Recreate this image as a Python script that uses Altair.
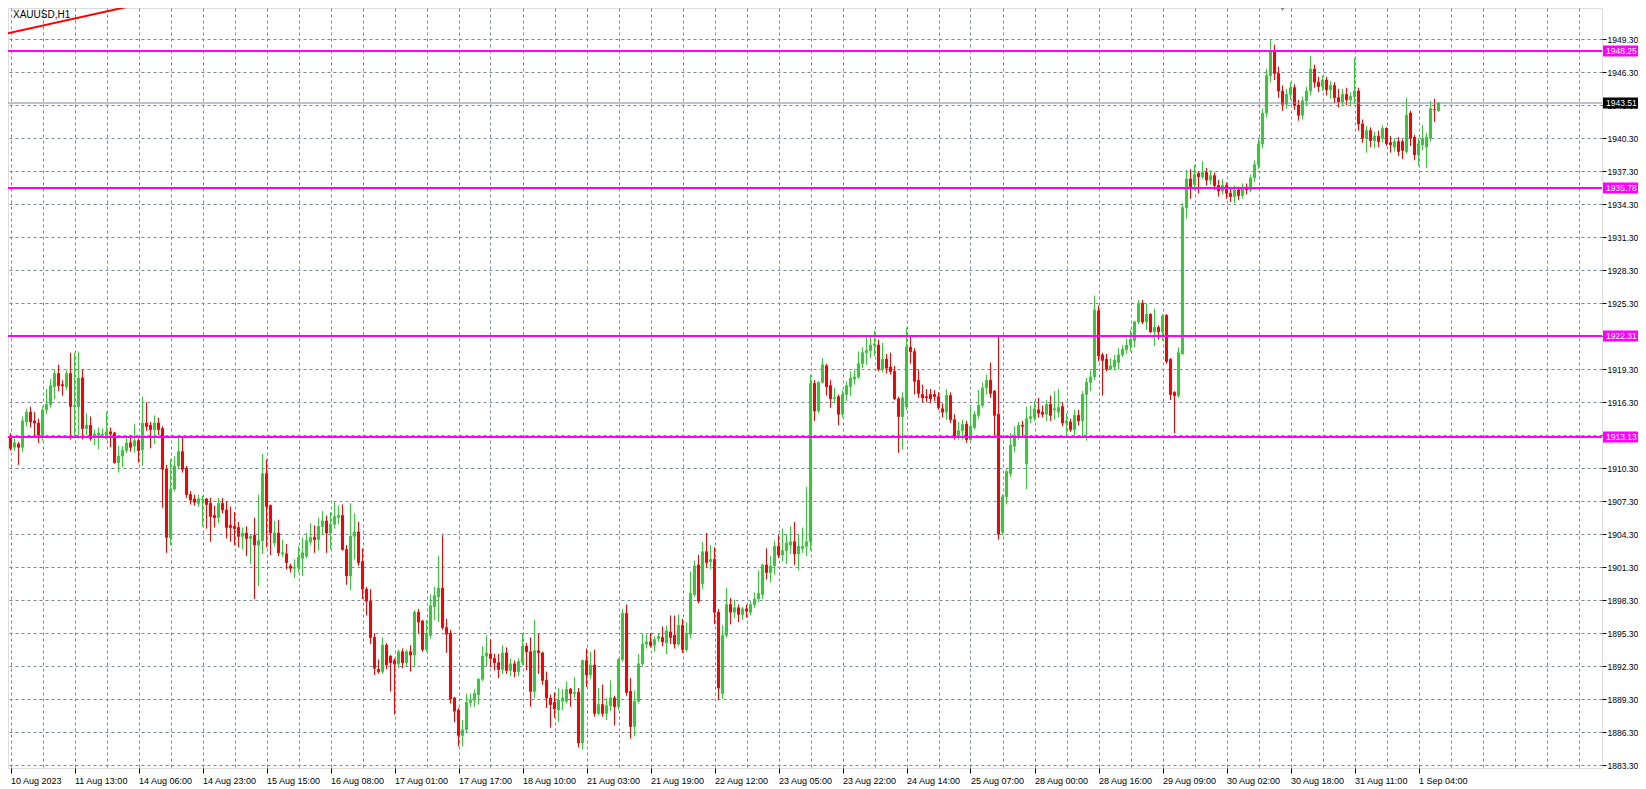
import json
import altair as alt
import pandas as pd

SYMBOL = "XAUUSD,H1"

OPEN = [
    1913.2, 1912.2, 1912.5, 1912.2, 1914.5, 1915.4, 1914.6, 1914.4, 1913.3, 1915.6,
    1916.1, 1917.7, 1918.9, 1917.9, 1917.7, 1918.9, 1915.9, 1915.9, 1918.5, 1913.9,
    1914.2, 1913.2, 1913.3, 1913.3, 1913.0, 1913.6, 1913.5, 1910.8, 1911.4, 1911.9,
    1912.6, 1912.3, 1912.8, 1912.0, 1914.4, 1914.2, 1913.8, 1914.4, 1913.9, 1910.2,
    1904.0, 1908.4, 1910.5, 1911.8, 1910.3, 1907.9, 1907.5, 1907.1, 1907.4, 1907.5,
    1907.1, 1906.0, 1905.8, 1907.1, 1906.5, 1905.1, 1905.0, 1904.9, 1904.1, 1904.4,
    1903.9, 1904.2, 1903.3, 1903.7, 1909.8, 1906.9, 1903.5, 1904.4, 1902.5, 1902.5,
    1901.4, 1901.2, 1901.3, 1902.1, 1902.3, 1903.6, 1904.0, 1903.8, 1905.0, 1905.5,
    1904.4, 1905.2, 1905.8, 1906.0, 1902.9, 1900.5, 1904.1, 1904.5, 1901.8, 1899.3,
    1898.2, 1894.9, 1892.0, 1891.8, 1894.2, 1893.2, 1892.8, 1892.5, 1893.6, 1892.6,
    1893.6, 1893.3, 1897.2, 1896.4, 1893.8, 1895.1, 1897.7, 1898.6, 1899.4, 1895.8,
    1895.3, 1889.4, 1888.3, 1886.0, 1886.5, 1889.0, 1889.2, 1889.7, 1891.1, 1893.2,
    1893.4, 1893.0, 1892.6, 1892.0, 1893.5, 1891.9, 1892.5, 1891.8, 1892.6, 1894.1,
    1893.6, 1890.0, 1893.7, 1893.5, 1891.0, 1889.4, 1889.0, 1888.3, 1889.1, 1889.1,
    1890.2, 1889.8, 1889.9, 1885.3, 1892.8, 1891.5, 1892.4, 1888.0, 1888.8, 1888.0,
    1888.7, 1889.4, 1888.6, 1892.9, 1897.1, 1890.0, 1886.8, 1889.1, 1892.5, 1894.3,
    1894.5, 1894.2, 1894.8, 1894.9, 1894.4, 1895.4, 1895.1, 1894.3, 1896.0, 1893.8,
    1895.2, 1898.8, 1901.5, 1899.8, 1902.7, 1901.8, 1902.0, 1897.2, 1889.8, 1895.1,
    1897.9, 1897.2, 1897.6, 1897.0, 1897.5, 1897.2, 1897.9, 1898.4, 1898.8, 1901.5,
    1900.8, 1901.4, 1903.2, 1902.4, 1902.8, 1903.3, 1903.6, 1902.5, 1903.0, 1903.2,
    1903.6, 1918.0, 1915.5, 1918.1, 1919.6, 1917.8, 1916.6, 1916.8, 1915.2, 1917.0,
    1917.7, 1918.4, 1918.6, 1919.8, 1920.8, 1921.0, 1921.5, 1921.5, 1919.3, 1920.2,
    1919.5, 1919.1, 1916.6, 1915.0, 1915.9, 1921.3, 1920.9, 1918.3, 1917.0, 1916.8,
    1917.0, 1917.0, 1916.8, 1915.7, 1915.4, 1916.9, 1914.7, 1913.2, 1913.7, 1914.3,
    1912.9, 1914.0, 1915.1, 1916.0, 1917.6, 1918.3, 1917.3, 1915.2, 1904.5, 1907.7,
    1909.8, 1912.3, 1913.2, 1914.2, 1910.7, 1914.8, 1914.9, 1915.6, 1915.4, 1915.2,
    1916.1, 1915.6, 1915.4, 1915.9, 1914.4, 1914.5, 1913.8, 1915.1, 1914.6, 1917.0,
    1918.1, 1918.6, 1924.6, 1920.6, 1920.2, 1919.3, 1919.5, 1919.9, 1920.6, 1921.1,
    1921.5, 1921.9, 1923.6, 1925.3, 1923.6, 1924.3, 1922.7, 1923.1, 1922.7, 1924.2,
    1920.2, 1917.2, 1916.9, 1920.7, 1934.0, 1936.6, 1936.1, 1937.1, 1936.8, 1937.2,
    1936.5, 1936.9, 1936.0, 1935.5, 1936.0, 1935.3, 1935.0, 1935.6, 1935.1, 1935.8,
    1935.6, 1936.7, 1937.9, 1939.8, 1942.6, 1946.0, 1948.3, 1946.2, 1944.6, 1943.4,
    1944.3, 1944.9, 1943.3, 1942.4, 1943.7, 1944.6, 1946.6, 1945.4, 1945.0, 1945.6,
    1944.7, 1945.1, 1944.0, 1943.6, 1944.3, 1943.8, 1944.1, 1944.6, 1941.6, 1940.3,
    1941.0, 1940.1, 1940.5, 1940.3, 1941.2, 1939.9, 1939.5, 1940.0, 1940.0, 1939.1,
    1942.6, 1940.4, 1938.8, 1939.7, 1939.5, 1940.3, 1942.9, 1942.8,
]

HIGH = [
    1913.5, 1913.0, 1912.7, 1915.0, 1915.7, 1915.9, 1915.4, 1914.8, 1915.9, 1917.5,
    1918.4, 1919.3, 1919.7, 1918.3, 1919.2, 1920.8, 1920.8, 1920.9, 1919.3, 1915.3,
    1915.0, 1913.8, 1914.0, 1913.9, 1915.4, 1914.0, 1913.6, 1912.3, 1912.3, 1913.2,
    1913.3, 1914.3, 1913.0, 1916.8, 1916.3, 1914.5, 1915.1, 1914.9, 1914.1, 1910.6,
    1911.1, 1911.4, 1913.2, 1913.2, 1910.5, 1908.2, 1907.9, 1907.9, 1907.8, 1907.6,
    1907.6, 1906.9, 1907.6, 1907.6, 1907.3, 1906.8, 1906.3, 1905.4, 1904.9, 1905.0,
    1904.2, 1905.8, 1907.9, 1911.6, 1911.1, 1907.0, 1905.5, 1905.6, 1903.8, 1903.4,
    1901.6, 1902.0, 1903.2, 1904.0, 1904.4, 1905.3, 1905.1, 1905.8, 1906.4, 1906.0,
    1906.3, 1907.3, 1906.9, 1907.0, 1903.3, 1907.1, 1906.2, 1905.4, 1903.0, 1899.5,
    1899.3, 1895.3, 1892.9, 1894.9, 1894.4, 1893.3, 1893.0, 1893.8, 1893.9, 1893.8,
    1894.2, 1897.4, 1897.5, 1896.5, 1896.5, 1898.8, 1899.5, 1902.3, 1904.2, 1896.6,
    1895.6, 1889.5, 1888.5, 1887.4, 1889.8, 1889.8, 1890.2, 1891.2, 1894.1, 1895.1,
    1894.7, 1893.4, 1893.4, 1894.2, 1894.0, 1893.0, 1892.8, 1893.0, 1895.3, 1894.4,
    1894.9, 1896.5, 1895.3, 1893.6, 1891.8, 1889.7, 1889.9, 1890.3, 1890.2, 1890.9,
    1890.3, 1891.3, 1890.3, 1892.9, 1893.9, 1893.6, 1893.8, 1890.3, 1890.6, 1889.4,
    1891.0, 1889.6, 1893.0, 1897.5, 1897.9, 1891.2, 1890.1, 1893.4, 1895.3, 1895.2,
    1895.3, 1895.0, 1895.3, 1895.9, 1896.0, 1896.9, 1896.9, 1897.0, 1896.6, 1896.3,
    1900.9, 1901.9, 1902.4, 1903.6, 1904.4, 1903.3, 1903.1, 1897.5, 1896.0, 1899.4,
    1898.5, 1898.3, 1897.9, 1897.7, 1897.9, 1898.2, 1899.0, 1901.0, 1901.6, 1903.0,
    1902.3, 1903.7, 1904.2, 1904.8, 1904.3, 1905.0, 1905.4, 1904.3, 1904.9, 1908.6,
    1918.8, 1918.3, 1918.2, 1920.3, 1919.8, 1918.3, 1917.6, 1917.0, 1917.4, 1918.2,
    1919.1, 1919.3, 1920.9, 1921.3, 1922.4, 1922.4, 1922.8, 1922.0, 1921.7, 1920.7,
    1920.8, 1919.6, 1916.8, 1917.2, 1923.1, 1922.3, 1921.2, 1919.3, 1917.9, 1917.5,
    1917.5, 1917.4, 1917.2, 1916.2, 1917.5, 1917.2, 1915.2, 1914.5, 1914.7, 1914.6,
    1916.0, 1915.5, 1917.4, 1918.1, 1918.8, 1919.9, 1917.4, 1922.3, 1907.9, 1910.2,
    1913.5, 1914.1, 1914.5, 1914.6, 1915.9, 1916.0, 1916.4, 1916.7, 1916.0, 1916.5,
    1916.9, 1917.3, 1917.5, 1916.3, 1915.3, 1914.8, 1915.6, 1915.6, 1917.3, 1918.5,
    1919.2, 1926.0, 1925.1, 1920.8, 1920.7, 1920.3, 1920.6, 1921.2, 1921.5, 1922.1,
    1922.9, 1923.7, 1925.6, 1925.6, 1925.3, 1924.4, 1924.8, 1923.3, 1924.3, 1924.3,
    1920.3, 1917.3, 1921.3, 1934.4, 1937.4, 1937.5, 1937.9, 1937.3, 1938.2, 1937.6,
    1937.4, 1937.2, 1936.5, 1936.6, 1936.3, 1935.8, 1936.0, 1935.9, 1936.2, 1936.2,
    1937.0, 1938.3, 1940.2, 1943.0, 1946.6, 1949.3, 1948.8, 1946.8, 1945.1, 1944.8,
    1945.4, 1945.2, 1943.8, 1944.1, 1945.0, 1947.8, 1947.0, 1945.9, 1946.0, 1945.9,
    1945.5, 1945.4, 1944.8, 1944.8, 1944.9, 1944.5, 1947.6, 1944.9, 1942.0, 1941.4,
    1941.3, 1940.9, 1941.0, 1941.5, 1941.3, 1940.5, 1940.3, 1940.4, 1940.2, 1944.0,
    1942.8, 1940.6, 1940.3, 1941.5, 1940.8, 1943.7, 1943.9, 1943.6,
]

LOW = [
    1911.9, 1911.9, 1910.6, 1911.8, 1914.1, 1914.0, 1913.1, 1912.6, 1912.8, 1915.2,
    1915.8, 1916.6, 1917.3, 1916.9, 1917.4, 1912.9, 1913.0, 1913.0, 1912.9, 1913.3,
    1912.8, 1912.4, 1912.0, 1913.0, 1912.9, 1912.2, 1910.7, 1909.9, 1910.4, 1911.7,
    1911.8, 1911.7, 1910.8, 1910.5, 1913.7, 1912.1, 1912.5, 1913.3, 1906.7, 1902.6,
    1903.3, 1908.2, 1910.3, 1909.9, 1907.6, 1907.0, 1906.9, 1906.8, 1905.0, 1904.8,
    1903.6, 1904.9, 1905.3, 1906.2, 1903.9, 1903.6, 1903.3, 1903.1, 1902.9, 1902.3,
    1901.6, 1898.4, 1899.6, 1902.5, 1903.1, 1902.4, 1903.2, 1902.3, 1902.2, 1901.1,
    1900.8, 1900.3, 1900.8, 1900.5, 1902.1, 1903.3, 1902.6, 1902.8, 1904.2, 1902.6,
    1902.9, 1904.8, 1905.2, 1902.8, 1899.7, 1899.2, 1902.0, 1901.4, 1898.4, 1896.9,
    1894.3, 1891.5, 1891.6, 1891.6, 1892.0, 1890.0, 1887.9, 1892.1, 1892.1, 1892.3,
    1891.8, 1892.2, 1895.3, 1893.6, 1893.6, 1894.8, 1896.5, 1896.3, 1895.6, 1893.5,
    1888.9, 1887.2, 1885.0, 1885.0, 1886.3, 1888.6, 1888.6, 1888.8, 1890.9, 1892.3,
    1892.2, 1891.9, 1891.2, 1891.6, 1891.6, 1891.4, 1891.3, 1891.4, 1892.4, 1891.9,
    1888.6, 1889.4, 1891.6, 1890.6, 1888.5, 1886.7, 1887.6, 1887.2, 1888.3, 1888.9,
    1888.6, 1889.4, 1884.9, 1884.7, 1890.4, 1891.1, 1887.7, 1887.8, 1887.7, 1887.4,
    1888.2, 1886.9, 1888.3, 1892.7, 1889.6, 1885.7, 1885.9, 1888.9, 1892.3, 1893.9,
    1894.0, 1893.6, 1894.5, 1894.1, 1893.4, 1894.3, 1893.9, 1894.1, 1893.5, 1893.6,
    1894.8, 1898.6, 1898.0, 1899.3, 1901.3, 1901.1, 1896.1, 1889.2, 1889.3, 1894.9,
    1896.1, 1896.7, 1896.3, 1896.5, 1896.7, 1896.9, 1897.6, 1898.1, 1898.4, 1900.2,
    1899.9, 1900.6, 1902.1, 1901.8, 1901.6, 1902.5, 1901.5, 1901.0, 1902.6, 1902.3,
    1902.8, 1914.6, 1915.3, 1918.0, 1916.9, 1915.8, 1916.2, 1914.2, 1914.9, 1916.4,
    1916.9, 1917.9, 1918.4, 1919.4, 1919.7, 1920.3, 1920.5, 1919.1, 1919.0, 1918.9,
    1918.8, 1916.5, 1911.7, 1912.0, 1915.6, 1919.8, 1917.0, 1916.7, 1916.3, 1916.3,
    1916.2, 1916.4, 1915.6, 1914.9, 1914.7, 1914.4, 1912.9, 1912.9, 1912.9, 1912.6,
    1912.8, 1913.8, 1914.8, 1915.8, 1917.0, 1916.7, 1913.3, 1903.8, 1904.2, 1907.0,
    1909.5, 1911.8, 1912.9, 1913.2, 1908.4, 1914.4, 1914.6, 1914.9, 1914.9, 1914.6,
    1914.6, 1914.7, 1914.9, 1914.1, 1913.3, 1913.6, 1913.3, 1914.2, 1913.2, 1912.8,
    1917.3, 1918.3, 1920.0, 1916.9, 1919.1, 1919.2, 1919.2, 1919.3, 1920.4, 1920.7,
    1920.9, 1921.3, 1923.4, 1923.4, 1922.9, 1922.6, 1921.4, 1922.0, 1921.9, 1919.8,
    1916.5, 1913.5, 1916.7, 1920.6, 1933.0, 1934.8, 1935.6, 1935.3, 1936.6, 1936.0,
    1936.1, 1935.6, 1935.0, 1935.2, 1934.8, 1934.5, 1934.4, 1934.7, 1934.8, 1935.2,
    1935.4, 1936.3, 1937.5, 1939.4, 1942.2, 1945.4, 1945.6, 1944.0, 1942.8, 1943.0,
    1943.8, 1942.9, 1941.9, 1942.0, 1943.3, 1944.2, 1944.9, 1944.5, 1944.6, 1944.2,
    1943.9, 1943.5, 1943.1, 1943.2, 1943.3, 1943.2, 1943.4, 1941.0, 1939.9, 1939.0,
    1939.5, 1939.4, 1939.5, 1939.9, 1939.6, 1939.0, 1939.1, 1938.7, 1938.4, 1938.9,
    1939.6, 1938.3, 1937.8, 1939.2, 1937.6, 1940.0, 1941.8, 1942.7,
]

CLOSE = [
    1912.1, 1912.6, 1912.2, 1914.6, 1915.4, 1914.5, 1914.4, 1913.3, 1915.6, 1916.1,
    1917.8, 1918.9, 1917.8, 1917.8, 1918.9, 1915.9, 1916.0, 1918.5, 1913.9, 1914.2,
    1913.0, 1913.4, 1913.5, 1913.4, 1913.6, 1913.4, 1910.8, 1911.4, 1911.9, 1912.6,
    1912.2, 1912.8, 1911.9, 1914.4, 1914.1, 1913.8, 1914.4, 1913.8, 1910.2, 1904.0,
    1908.4, 1910.5, 1911.8, 1910.2, 1907.9, 1907.4, 1907.2, 1907.5, 1907.5, 1907.0,
    1905.9, 1905.8, 1907.1, 1906.5, 1904.9, 1904.9, 1904.8, 1904.1, 1904.4, 1903.9,
    1904.1, 1903.3, 1903.7, 1909.8, 1906.8, 1904.4, 1904.4, 1902.6, 1902.6, 1901.7,
    1901.2, 1901.3, 1902.2, 1902.6, 1903.7, 1904.0, 1903.8, 1905.0, 1905.5, 1904.4,
    1905.2, 1905.9, 1906.0, 1902.9, 1900.5, 1904.1, 1904.5, 1901.7, 1899.3, 1898.2,
    1894.9, 1892.1, 1891.8, 1894.2, 1892.4, 1892.6, 1892.5, 1893.6, 1892.6, 1893.6,
    1893.3, 1897.2, 1896.3, 1893.8, 1895.2, 1897.8, 1898.7, 1899.4, 1895.8, 1895.2,
    1889.3, 1888.2, 1886.0, 1886.5, 1889.0, 1889.2, 1889.8, 1891.1, 1893.2, 1893.5,
    1893.0, 1892.6, 1892.0, 1893.5, 1891.9, 1892.5, 1891.8, 1892.7, 1894.1, 1893.6,
    1890.0, 1893.7, 1893.5, 1891.0, 1889.4, 1888.8, 1888.4, 1889.2, 1889.4, 1890.2,
    1889.8, 1889.9, 1885.3, 1892.8, 1891.5, 1892.4, 1888.0, 1888.8, 1888.0, 1888.7,
    1889.4, 1888.6, 1892.9, 1897.1, 1889.9, 1886.8, 1889.1, 1892.5, 1894.3, 1894.5,
    1894.2, 1894.7, 1895.0, 1894.5, 1895.5, 1894.9, 1894.3, 1896.0, 1893.8, 1895.3,
    1898.9, 1901.4, 1898.2, 1902.7, 1901.7, 1902.0, 1897.2, 1890.3, 1895.1, 1897.9,
    1897.2, 1897.6, 1897.0, 1897.5, 1897.3, 1897.9, 1898.4, 1898.9, 1901.5, 1900.8,
    1901.4, 1903.2, 1902.4, 1902.8, 1903.5, 1903.6, 1902.5, 1903.2, 1903.2, 1903.6,
    1918.0, 1915.5, 1918.1, 1919.7, 1917.7, 1916.6, 1916.7, 1915.2, 1917.0, 1917.8,
    1918.5, 1918.6, 1919.8, 1920.8, 1921.0, 1921.5, 1921.6, 1919.3, 1920.2, 1919.4,
    1919.1, 1916.6, 1915.0, 1916.7, 1921.3, 1920.9, 1918.2, 1917.1, 1916.7, 1916.7,
    1916.6, 1916.8, 1915.8, 1915.4, 1916.9, 1914.7, 1913.2, 1913.7, 1914.3, 1912.9,
    1914.1, 1915.2, 1916.0, 1917.6, 1918.3, 1917.1, 1915.1, 1904.3, 1907.7, 1910.0,
    1912.4, 1913.3, 1914.2, 1914.1, 1914.8, 1915.0, 1915.7, 1915.3, 1915.2, 1916.1,
    1915.1, 1915.7, 1915.8, 1914.4, 1914.6, 1913.8, 1915.1, 1914.6, 1917.0, 1918.1,
    1918.6, 1924.7, 1920.5, 1920.1, 1919.3, 1919.6, 1920.1, 1920.6, 1921.1, 1921.5,
    1922.0, 1923.6, 1925.3, 1923.6, 1924.3, 1922.7, 1923.1, 1922.7, 1924.1, 1920.0,
    1917.0, 1916.9, 1920.8, 1934.0, 1936.6, 1935.9, 1937.0, 1936.8, 1937.2, 1936.5,
    1936.9, 1936.0, 1935.5, 1936.0, 1935.3, 1935.0, 1935.6, 1935.1, 1935.8, 1935.6,
    1936.7, 1937.9, 1939.8, 1942.6, 1946.0, 1948.3, 1946.2, 1944.6, 1943.4, 1944.3,
    1944.9, 1943.3, 1942.4, 1943.7, 1944.6, 1946.6, 1945.4, 1945.0, 1945.6, 1944.7,
    1945.1, 1944.0, 1943.6, 1944.3, 1943.8, 1944.1, 1944.6, 1941.6, 1940.3, 1941.0,
    1940.1, 1940.5, 1940.0, 1941.2, 1939.8, 1939.7, 1940.0, 1939.1, 1939.2, 1942.4,
    1940.3, 1938.8, 1939.8, 1940.3, 1940.4, 1943.0, 1942.9, 1943.5,
]

X_LABELS = [
    "10 Aug 2023", "11 Aug 13:00", "14 Aug 06:00", "14 Aug 23:00", "15 Aug 15:00",
    "16 Aug 08:00", "17 Aug 01:00", "17 Aug 17:00", "18 Aug 10:00", "21 Aug 03:00",
    "21 Aug 19:00", "22 Aug 12:00", "23 Aug 05:00", "23 Aug 22:00", "24 Aug 14:00",
    "25 Aug 07:00", "28 Aug 00:00", "28 Aug 16:00", "29 Aug 09:00", "30 Aug 02:00",
    "30 Aug 18:00", "31 Aug 11:00", "1 Sep 04:00",
]

Y_TICKS = [
    1883.30, 1886.30, 1889.30, 1892.30, 1895.30, 1898.30, 1901.30, 1904.30,
    1907.30, 1910.30, 1913.30, 1916.30, 1919.30, 1922.30, 1925.30, 1928.30,
    1931.30, 1934.30, 1937.30, 1940.30, 1943.30, 1946.30, 1949.30,
]

LEVELS = [1948.25, 1935.78, 1922.31, 1913.13]
CURRENT = [1943.51]
TREND_I = [-1, 40]
TREND_P = [1949.83, 1953.12]
SHIFT_MARK_I = [318]

GREEN = "#32CD32"
RED = "#FF0000"
MAGENTA = "#FF00FF"
GRID = "#778899"
FONT = "Liberation Sans"
W, H = 1594, 760
RIGHT = 36
YFS = 8.5

n = len(CLOSE)
assert len(OPEN) == n and len(HIGH) == n and len(LOW) == n, (len(OPEN), len(HIGH), len(LOW), n)

df = pd.DataFrame({"i": list(range(n)), "open": OPEN, "high": HIGH, "low": LOW, "close": CLOSE})
df["high"] = df[["high", "open", "close"]].max(axis=1)
df["low"] = df[["low", "open", "close"]].min(axis=1)
df["dir"] = ["up" if c > o else "down" for o, c in zip(OPEN, CLOSE)]

XS = alt.Scale(domain=[-0.625, 397.875], nice=False, zero=False, padding=0)
YS = alt.Scale(domain=[1883.03, 1952.15], nice=False, zero=False, padding=0)

nl = len(X_LABELS)
label_test = f"datum.value % 16 === 0 && datum.value / 16 < {nl}"
XAXIS = alt.Axis(
    values=list(range(0, 393, 8)), grid=True, gridDash=[3, 3], gridColor=GRID,
    gridOpacity=1, domain=False, ticks=True, tickSize=5,
    tickColor={"condition": {"test": label_test, "value": "black"}, "value": "transparent"},
    labelExpr=f"({label_test}) ? {json.dumps(X_LABELS)}[datum.value / 16] : ''",
    labelAlign="left", labelPadding=3, labelFlush=False, labelOverlap=False,
    labelFont=FONT, labelFontSize=9, labelColor="black", title=None,
)
YAXIS = alt.Axis(
    orient="right", values=Y_TICKS, format=".2f", grid=True, gridDash=[3, 3],
    gridColor=GRID, gridOpacity=1, domain=False, tickSize=4, tickColor="black",
    labelPadding=1, labelFont=FONT, labelFontSize=YFS, labelColor="black",
    labelOverlap=False, labelFlush=False, title=None,
)

X = alt.X("i:Q", scale=XS, axis=XAXIS)
def Y(f):
    return alt.Y(f, scale=YS, axis=YAXIS)

cscale = alt.Scale(domain=["up", "down"], range=[GREEN, RED])

wicks = alt.Chart(df).mark_rule(strokeWidth=1).encode(
    x=X, y=Y("low:Q"), y2="high:Q", color=alt.Color("dir:N", scale=cscale, legend=None)
)
bodies = alt.Chart(df).mark_bar(size=2, strokeWidth=1).encode(
    x=X, y=Y("open:Q"), y2="close:Q",
    color=alt.Color("dir:N", scale=cscale, legend=None),
    stroke=alt.Stroke("dir:N", scale=cscale, legend=None),
)

lv = pd.DataFrame({"level": LEVELS, "label": [f"{v:.2f}" for v in LEVELS]})
cp = pd.DataFrame({"level": CURRENT, "label": [f"{v:.2f}" for v in CURRENT]})

level_lines = alt.Chart(lv).mark_rule(color=MAGENTA, strokeWidth=2).encode(y=Y("level:Q"))
cur_line = alt.Chart(cp).mark_rule(color=GRID, strokeWidth=1).encode(y=Y("level:Q"))

tr = pd.DataFrame({"i": TREND_I, "p": TREND_P})
trend = alt.Chart(tr).mark_line(color=RED, strokeWidth=2, clip=True).encode(x=X, y=Y("p:Q"))

level_boxes = alt.Chart(lv).mark_rule(color=MAGENTA, strokeWidth=11).encode(
    x=alt.value(W + 1), x2=alt.value(W + RIGHT), y=Y("level:Q"))
level_text = alt.Chart(lv).mark_text(align="left", baseline="middle", color="white",
                                     font=FONT, fontSize=YFS).encode(
    x=alt.value(W + 4), y=Y("level:Q"), text="label:N")
cur_box = alt.Chart(cp).mark_rule(color="black", strokeWidth=11).encode(
    x=alt.value(W + 1), x2=alt.value(W + RIGHT), y=Y("level:Q"))
cur_text = alt.Chart(cp).mark_text(align="left", baseline="middle", color="white",
                                   font=FONT, fontSize=YFS).encode(
    x=alt.value(W + 4), y=Y("level:Q"), text="label:N")

sym = alt.Chart(pd.DataFrame({"t": [SYMBOL]})).mark_text(
    align="left", baseline="alphabetic", font=FONT, fontSize=10, color="black"
).encode(x=alt.value(5), y=alt.value(10), text="t:N")

shift = alt.Chart(pd.DataFrame({"i": SHIFT_MARK_I})).mark_point(
    shape="triangle-down", filled=True, color="#808080", size=50, opacity=1
).encode(x=X, y=alt.value(0))

chart = alt.layer(
    wicks, bodies, level_lines, cur_line, trend,
    level_boxes, level_text, cur_box, cur_text, sym, shift,
).properties(
    width=W, height=H, autosize=alt.AutoSizeParams(type="none"),
    padding={"left": 0, "top": 0, "right": RIGHT, "bottom": 21},
).configure_view(stroke="black", strokeWidth=1).configure(background="white")

chart.save("out.html", embed_options={"renderer": "svg", "actions": False})
